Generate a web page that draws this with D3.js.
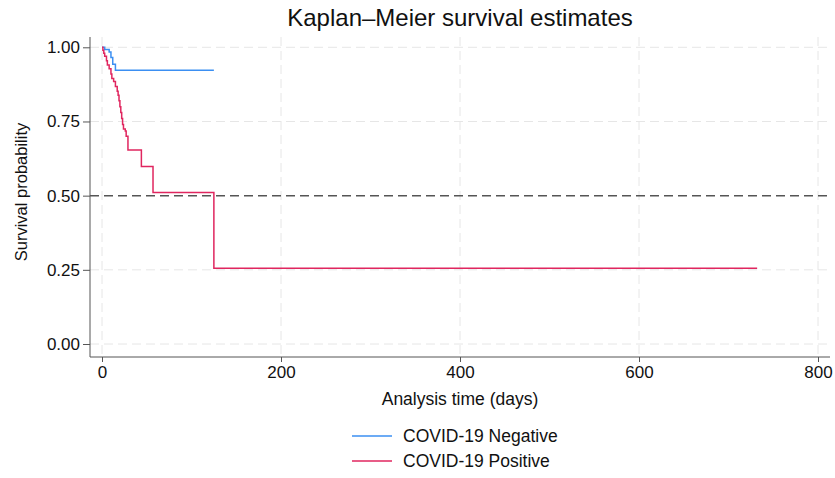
<!DOCTYPE html>
<html>
<head>
<meta charset="utf-8">
<script src="https://cdn.jsdelivr.net/npm/d3@7"></script>
<style>
  body { margin: 0; background: #fff; }
  svg text { font-family: "Liberation Sans", Arial, Helvetica, sans-serif; fill: #111; }
</style>
</head>
<body>
<div id="chart"></div>
<script>
// KM step data (day, survival)
const negTimes = [0, 3, 8, 10, 12, 15, 125];
const negSurv  = [1, 0.993, 0.984, 0.966, 0.943, 0.923, 0.923];

const posTimes = [0, 1, 2, 3, 5, 6, 8, 10, 11, 13, 15, 17, 18, 19, 20, 21, 22, 23, 24, 26, 27, 29, 44, 57, 125, 732];
const posSurv  = [1, 0.99, 0.98, 0.97, 0.955, 0.94, 0.928, 0.91, 0.895, 0.885, 0.868, 0.852, 0.838, 0.82, 0.80, 0.78, 0.76, 0.74, 0.725, 0.718, 0.70, 0.654, 0.598, 0.511, 0.255, 0.255];

const xTicks = [0, 200, 400, 600, 800];
const yTicks = [0, 0.25, 0.5, 0.75, 1];

const seriesNames = ["COVID-19 Negative", "COVID-19 Positive"];
const seriesColors = ["#3b8ff2", "#e0265f"];

const W = 835, H = 478;
const plot = { left: 90, right: 830, top: 37, bottom: 357 };

const svg = d3.select('#chart').append('svg')
  .attr('width', W)
  .attr('height', H);

const x = d3.scaleLinear().domain([0, 800]).range([102, 818]);
const y = d3.scaleLinear().domain([0, 1]).range([344, 47.3]);

// title
svg.append('text')
  .attr('x', 460)
  .attr('y', 26)
  .attr('text-anchor', 'middle')
  .style('font-size', '24px')
  .text('Kaplan\u2013Meier survival estimates');

// gridlines
const grid = svg.append('g').classed('gridlines', true);
xTicks.forEach(t => {
  grid.append('line')
    .attr('x1', x(t)).attr('x2', x(t))
    .attr('y1', plot.top).attr('y2', plot.bottom)
    .style('stroke', '#e6e6e6')
    .style('stroke-width', '1px')
    .style('stroke-dasharray', '9,5');
});
yTicks.filter(t => t !== 0.5).forEach(t => {
  grid.append('line')
    .attr('x1', plot.left).attr('x2', plot.right)
    .attr('y1', y(t)).attr('y2', y(t))
    .style('stroke', '#e6e6e6')
    .style('stroke-width', '1px')
    .style('stroke-dasharray', '9,5');
});

// median reference line
svg.append('line')
  .attr('x1', plot.left).attr('x2', plot.right)
  .attr('y1', y(0.5)).attr('y2', y(0.5))
  .style('stroke', '#555')
  .style('stroke-width', '1.5px')
  .style('stroke-dasharray', '9,5');

// curves
const lineFn = d3.line()
  .x(d => x(d[0]))
  .y(d => y(d[1]))
  .curve(d3.curveStepAfter);

const series = [
  d3.zip(negTimes, negSurv),
  d3.zip(posTimes, posSurv)
];

series.forEach((data, i) => {
  svg.append('path')
    .datum(data)
    .style('fill', 'none')
    .style('stroke', seriesColors[i])
    .style('stroke-width', '1.5px')
    .attr('d', lineFn);
});

// axes
const axisY = d3.axisLeft(y).tickValues(yTicks).tickFormat(d3.format('.2f')).tickSize(7).tickPadding(3);
const gy = svg.append('g')
  .attr('transform', `translate(${plot.left},0)`)
  .call(axisY);
gy.select('.domain').remove();
gy.append('line')
  .attr('x1', 0).attr('x2', 0)
  .attr('y1', plot.top).attr('y2', plot.bottom)
  .style('stroke', '#555');

const axisX = d3.axisBottom(x).tickValues(xTicks).tickSize(5).tickPadding(4);
const gx = svg.append('g')
  .attr('transform', `translate(0,${plot.bottom})`)
  .call(axisX);
gx.select('.domain').remove();
gx.append('line')
  .attr('x1', plot.left).attr('x2', plot.right)
  .attr('y1', 0).attr('y2', 0)
  .style('stroke', '#555');

[gx, gy].forEach(g => {
  g.selectAll('.tick line').style('stroke', '#555');
  g.selectAll('.tick text')
    .style('font-size', '17px')
    .style('font-family', '"Liberation Sans", Arial, sans-serif')
    .style('fill', '#111');
});

// axis titles
svg.append('text')
  .attr('x', 460)
  .attr('y', 405)
  .attr('text-anchor', 'middle')
  .style('font-size', '17.5px')
  .text('Analysis time (days)');

svg.append('text')
  .attr('transform', 'translate(27,192) rotate(-90)')
  .attr('text-anchor', 'middle')
  .style('font-size', '16.5px')
  .text('Survival probability');

// legend
const legend = svg.append('g').classed('legend', true);
seriesNames.forEach((name, i) => {
  const ly = 436 + i * 25;
  legend.append('line')
    .attr('x1', 352).attr('x2', 392)
    .attr('y1', ly).attr('y2', ly)
    .style('stroke', seriesColors[i])
    .style('stroke-width', '1.5px');
  legend.append('text')
    .attr('x', 403)
    .attr('y', ly)
    .attr('dominant-baseline', 'central')
    .style('font-size', '17.5px')
    .text(name);
});
</script>
</body>
</html>
